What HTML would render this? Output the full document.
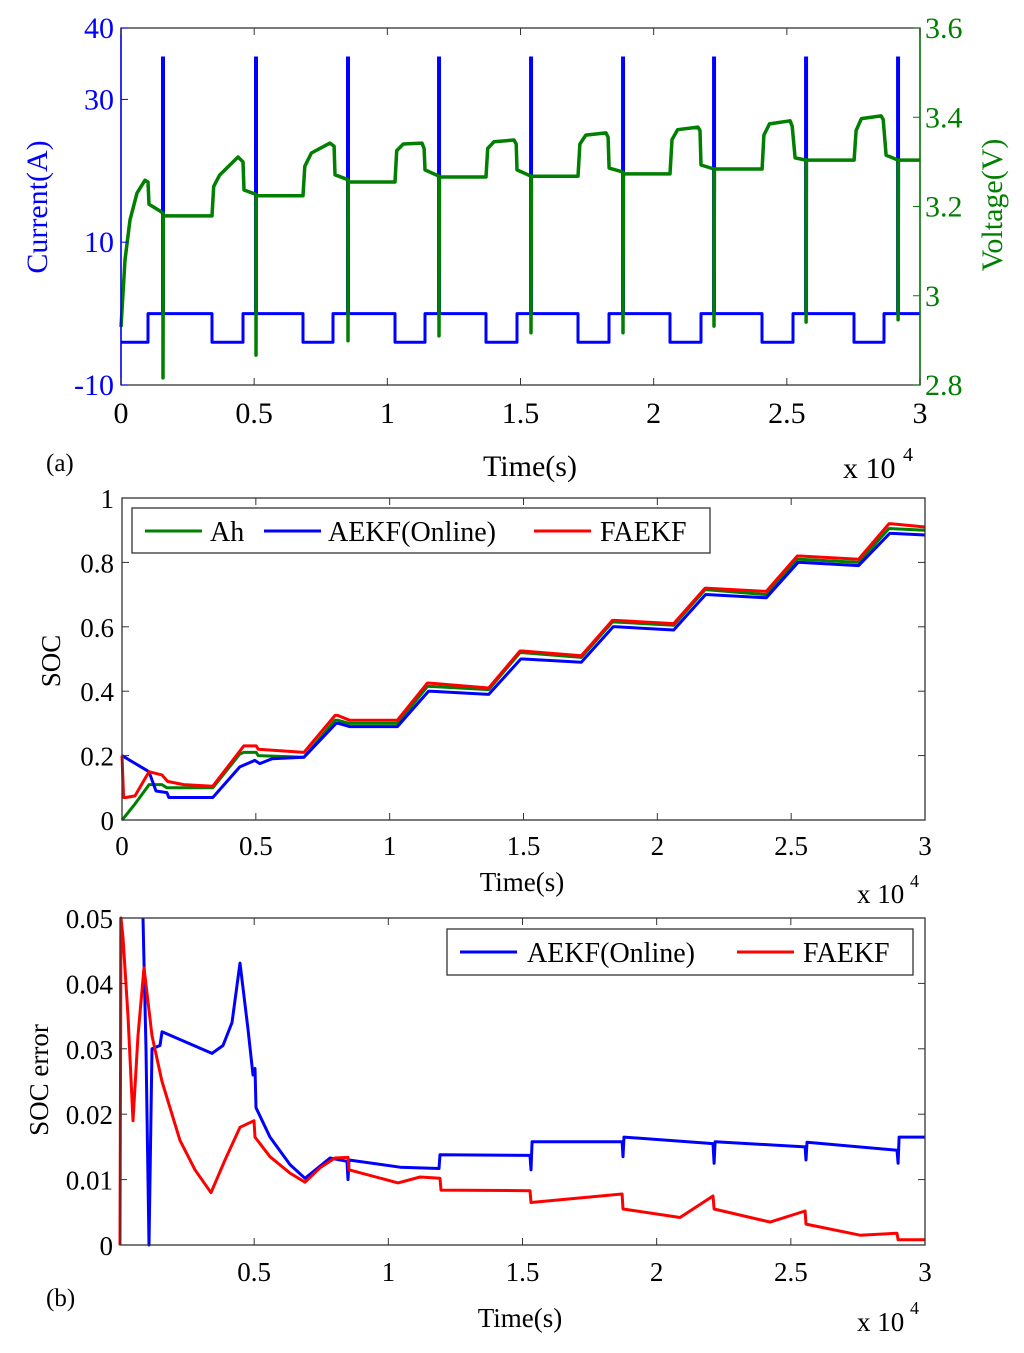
<!DOCTYPE html>
<html><head><meta charset="utf-8"><style>
body{margin:0;background:#fff;width:1024px;height:1348px;overflow:hidden;font-family:"Liberation Serif","DejaVu Serif",serif}
svg text{font-family:"Liberation Serif","DejaVu Serif",serif}
</style></head><body>
<svg id="c" width="1024" height="1348" xmlns="http://www.w3.org/2000/svg"></svg>
<script>
// ---- Panel (a) data ----
const curT=[0,1014,1014,3417,3417,4581,4581,6834,6834,7960,7960,10288,10288,11414,11414,13705,13705,14869,14869,17159,17159,18323,18323,20614,20614,21777,21777,24068,24068,25232,25232,27522,27522,28649,28649,30000];
const curI=[-4,-4,0,0,-4,-4,0,0,-4,-4,0,0,-4,-4,0,0,-4,-4,0,0,-4,-4,0,0,-4,-4,0,0,-4,-4,0,0,-4,-4,0,0];
const spikeT=[1577,5069,8523,11941,15396,18850,22267,25722,29176];
const spikeI=[36,36,36,36,36,36,36,36,36];
const voltT=[0,150,338,600,901,1014,1050,1464,1577,1577,1590,3417,3480,3700,4393,4581,4620,5032,5069,5069,5080,6834,6900,7150,7848,8000,8036,8523,8523,8535,10289,10350,10600,11303,11380,11415,11941,11941,11955,13706,13770,14000,14757,14840,14870,15396,15396,15410,17160,17230,17450,18212,18290,18325,18850,18850,18864,20615,20690,20900,21666,21740,21779,22267,22267,22280,24070,24140,24350,25121,25200,25309,25722,25722,25735,27524,27600,27800,28538,28620,28726,29176,29176,29190,30000];
const voltV=[2.93,3.08,3.17,3.23,3.259,3.255,3.205,3.19,3.185,2.816,3.179,3.179,3.245,3.27,3.311,3.30,3.237,3.228,3.226,2.867,3.224,3.224,3.29,3.32,3.342,3.335,3.271,3.26,2.899,3.255,3.255,3.325,3.34,3.342,3.33,3.282,3.268,2.910,3.266,3.266,3.33,3.345,3.349,3.34,3.282,3.268,2.917,3.268,3.268,3.34,3.36,3.365,3.355,3.286,3.277,2.917,3.273,3.273,3.35,3.372,3.378,3.37,3.293,3.284,2.932,3.284,3.284,3.36,3.385,3.392,3.38,3.309,3.304,2.941,3.304,3.304,3.37,3.397,3.403,3.395,3.315,3.304,2.946,3.304,3.304];
// ---- Panel (b) SOC data ----
const socT=[0,100,485,970,1010,1492,1679,2500,3393,4400,4550,5015,5090,6800,7960,8050,8500,10290,11410,11500,13700,14870,14960,17160,18320,18410,20610,21780,21870,24070,25230,25320,27520,28650,28740,30000];
const ahSOC=[0,0.01,0.05,0.105,0.11,0.11,0.10,0.10,0.10,0.205,0.21,0.21,0.20,0.195,0.31,0.31,0.30,0.30,0.415,0.415,0.405,0.52,0.52,0.505,0.615,0.615,0.605,0.715,0.715,0.70,0.81,0.81,0.80,0.905,0.905,0.90];
const redT=[0,60,150,485,800,1010,1492,1700,2300,3393,4550,5015,5090,6800,7960,8050,8500,10290,11410,11500,13700,14870,14960,17160,18320,18410,20610,21780,21870,24070,25230,25320,27520,28650,28740,30000];
const redSOC=[0.2,0.07,0.07,0.075,0.12,0.15,0.14,0.12,0.11,0.105,0.23,0.23,0.22,0.21,0.325,0.325,0.31,0.31,0.425,0.425,0.41,0.525,0.525,0.51,0.62,0.62,0.61,0.72,0.72,0.71,0.82,0.82,0.81,0.92,0.92,0.91];
const blueT=[0,1010,1270,1679,1750,3393,4400,4960,5150,5600,6800,8000,8100,8500,10290,11450,11550,13700,14900,15000,17160,18350,18450,20610,21800,21900,24070,25260,25350,27520,28680,28770,30000];
const blueSOC=[0.2,0.15,0.09,0.085,0.07,0.07,0.165,0.185,0.175,0.19,0.195,0.30,0.30,0.29,0.29,0.40,0.40,0.39,0.50,0.50,0.49,0.60,0.60,0.59,0.70,0.70,0.69,0.80,0.80,0.79,0.89,0.89,0.885];
// ---- Panel (b) error data ----
const errBT=[857,969,1081,1193,1491,1565,3429,3839,4174,4472,4770,4957,5031,5069,5590,6336,6895,7380,7827,8460,8498,8536,10436,11889,11926,15281,15318,15356,18710,18747,18784,22101,22139,22176,25530,25567,25604,28958,28996,29033,30000];
const errB=[0.05,0.03,0.0,0.030,0.0305,0.0326,0.0293,0.0305,0.034,0.0431,0.033,0.026,0.027,0.021,0.0165,0.0123,0.0102,0.0118,0.0133,0.0128,0.0100,0.0130,0.0119,0.0117,0.0138,0.0137,0.0115,0.0158,0.0158,0.0135,0.0165,0.0155,0.0125,0.0158,0.0150,0.0130,0.0157,0.0145,0.0125,0.0165,0.0165];
const errRT=[0,37,112,298,485,671,894,1193,1565,2236,2795,3392,3914,4472,4994,5031,5590,6336,6895,7454,8013,8498,8536,10362,11182,11926,11964,15281,15318,18710,18747,20871,22101,22139,24226,25530,25567,27580,28958,28996,30000];
const errR=[0,0.050,0.047,0.035,0.019,0.032,0.0424,0.032,0.025,0.016,0.0115,0.008,0.013,0.018,0.019,0.0165,0.0135,0.011,0.0096,0.0118,0.0133,0.0134,0.0115,0.0095,0.0104,0.0102,0.0084,0.0083,0.0065,0.0078,0.0055,0.0042,0.0075,0.0055,0.0035,0.0052,0.0032,0.0015,0.0018,0.0008,0.0008];
const xTicks=[0,0.5,1,1.5,2,2.5,3];
const xTicks2=[0.5,1,1.5,2,2.5,3];
const curTicks=[-10,10,30,40];
const voltTicks=[2.8,3,3.2,3.4,3.6];
const socTicks=[0,0.2,0.4,0.6,0.8,1];
const errTicks=[0,0.01,0.02,0.03,0.04,0.05];

const S=document.getElementById('c');
const NS='http://www.w3.org/2000/svg';
const FONT='"Liberation Serif","DejaVu Serif",serif';
function mk(tag,at,txt){const e=document.createElementNS(NS,tag);for(const k in at)e.setAttribute(k,at[k]);if(txt!==undefined)e.textContent=txt;S.appendChild(e);return e;}
function fmt(v){return (Math.round(v*1000)/1000).toString();}
function lin(d0,d1,r0,r1){return v=>r0+(v-d0)/(d1-d0)*(r1-r0);}
function path(T,V,sx,sy,color,name,w){let d='';for(let i=0;i<T.length;i++)d+=(i?'L':'M')+sx(T[i]).toFixed(1)+' '+sy(V[i]).toFixed(1);const p=mk('path',{d:d,fill:'none',stroke:color,'stroke-width':w||3,'stroke-linejoin':'round'});

return p;}
function txt(x,y,s,opts,name){const t=mk('text',Object.assign({x:x,y:y,'font-size':30,'font-family':FONT},opts),s);

return t;}

// ===== Panel a =====
(function(){
const L=121,R=920,T=28,B=385;
const sx=lin(0,30000,L,R), sy=lin(-10,40,B,T), sv=lin(2.8,3.6,B,T);
path(curT,curI,sx,sy,'#0000ff','current-line',3);
for(let i=0;i<spikeT.length;i++){const l=mk('line',{x1:sx(spikeT[i]),x2:sx(spikeT[i]),y1:sy(0),y2:sy(spikeI[i]),stroke:'#0000ff','stroke-width':4});

}
path(voltT,voltV,sx,sv,'#007f00','voltage-line',3.5);
const f=mk('rect',{x:L,y:T,width:R-L,height:B-T,fill:'none',stroke:'#333','stroke-width':1.3});


mk('line',{x1:L,y1:T,x2:L,y2:B,stroke:'#0000ff','stroke-width':1.5});
mk('line',{x1:R,y1:T,x2:R,y2:B,stroke:'#007f00','stroke-width':1.5});
xTicks.forEach(v=>{const x=sx(v*1e4);mk('line',{x1:x,x2:x,y1:B,y2:B-7,stroke:'#333'});mk('line',{x1:x,x2:x,y1:T,y2:T+7,stroke:'#333'});
txt(x,423,fmt(v),{'text-anchor':'middle'},'x-tick-label');});
curTicks.forEach(v=>{const y=sy(v);mk('line',{x1:L,x2:L+7,y1:y,y2:y,stroke:'#0000ff'});txt(114,y+10,String(v),{'text-anchor':'end',fill:'#0000ff'},'current-tick-label');});
voltTicks.forEach(v=>{const y=sv(v);mk('line',{x1:R,x2:R-7,y1:y,y2:y,stroke:'#007f00'});txt(925,y+10,fmt(v),{fill:'#007f00'},'voltage-tick-label');});
txt(0,0,'Current(A)',{'text-anchor':'middle',fill:'#0000ff',transform:'translate(47,207) rotate(-90)'},'current-axis-title');
txt(0,0,'Voltage(V)',{'text-anchor':'middle',fill:'#007f00',transform:'translate(1002,205) rotate(-90)'},'voltage-axis-title');
txt(530,476,'Time(s)',{'text-anchor':'middle'},'x-axis-title-a');
txt(843,478,'x 10',{},'x-scale-a');txt(903,461,'4',{'font-size':20},'x-scale-exp-a');
txt(46,471,'(a)',{'font-size':25},'panel-label-a');
})();

// ===== Panel b SOC =====
(function(){
const L=122,R=925,T=498,B=820;
const sx=lin(0,30000,L,R), sy=lin(0,1,B,T);
path(socT,ahSOC,sx,sy,'#007f00','ah-soc-line',3);
path(blueT,blueSOC,sx,sy,'#0000ff','aekf-soc-line',3);
path(redT,redSOC,sx,sy,'#ff0000','faekf-soc-line',3);
const f=mk('rect',{x:L,y:T,width:R-L,height:B-T,fill:'none',stroke:'#333','stroke-width':1.3});


xTicks.forEach(v=>{const x=sx(v*1e4);mk('line',{x1:x,x2:x,y1:B,y2:B-7,stroke:'#333'});mk('line',{x1:x,x2:x,y1:T,y2:T+7,stroke:'#333'});
txt(x,855,fmt(v),{'text-anchor':'middle','font-size':27},'x-tick-label');});
socTicks.forEach(v=>{const y=sy(v);mk('line',{x1:L,x2:L+7,y1:y,y2:y,stroke:'#333'});mk('line',{x1:R,x2:R-7,y1:y,y2:y,stroke:'#333'});
txt(114,y+10,fmt(v),{'text-anchor':'end','font-size':27},'soc-tick-label');});
txt(0,0,'SOC',{'text-anchor':'middle','font-size':27,transform:'translate(60,661) rotate(-90)'},'soc-axis-title');
txt(522,891,'Time(s)',{'text-anchor':'middle','font-size':27},'x-axis-title-soc');
txt(857,903,'x 10',{'font-size':27},'x-scale-soc');txt(910,887,'4',{'font-size':18},'x-scale-exp-soc');
const lg=mk('rect',{x:132,y:508,width:578,height:45,fill:'#fff',stroke:'#333','stroke-width':1.3});


[['#007f00','Ah',145,210],['#0000ff','AEKF(Online)',264,328],['#ff0000','FAEKF',534,600]].forEach(e=>{mk('line',{x1:e[2],x2:e[2]+57,y1:531,y2:531,stroke:e[0],'stroke-width':3});txt(e[3],541,e[1],{'font-size':28},'legend-entry');});
})();

// ===== Panel b error =====
(function(){
const L=120,R=925,T=918,B=1245;
const sx=lin(0,30000,L,R), sy=lin(0,0.05,B,T);
path(errBT,errB,sx,sy,'#0000ff','aekf-error-line',3);
path(errRT,errR,sx,sy,'#ff0000','faekf-error-line',3);
const f=mk('rect',{x:L,y:T,width:R-L,height:B-T,fill:'none',stroke:'#333','stroke-width':1.3});


xTicks2.forEach(v=>{const x=sx(v*1e4);mk('line',{x1:x,x2:x,y1:B,y2:B-7,stroke:'#333'});mk('line',{x1:x,x2:x,y1:T,y2:T+7,stroke:'#333'});
txt(x,1281,fmt(v),{'text-anchor':'middle','font-size':27},'x-tick-label');});
errTicks.forEach(v=>{const y=sy(v);mk('line',{x1:L,x2:L+7,y1:y,y2:y,stroke:'#333'});mk('line',{x1:R,x2:R-7,y1:y,y2:y,stroke:'#333'});
txt(113,y+10,fmt(v),{'text-anchor':'end','font-size':27},'error-tick-label');});
txt(0,0,'SOC error',{'text-anchor':'middle','font-size':27,transform:'translate(48,1080) rotate(-90)'},'error-axis-title');
txt(520,1327,'Time(s)',{'text-anchor':'middle','font-size':27},'x-axis-title-error');
txt(857,1331,'x 10',{'font-size':27},'x-scale-error');txt(910,1314,'4',{'font-size':18},'x-scale-exp-error');
txt(46,1306,'(b)',{'font-size':25},'panel-label-b');
const lg=mk('rect',{x:447,y:929,width:466,height:46,fill:'#fff',stroke:'#333','stroke-width':1.3});


[['#0000ff','AEKF(Online)',460,527],['#ff0000','FAEKF',737,803]].forEach(e=>{mk('line',{x1:e[2],x2:e[2]+57,y1:952,y2:952,stroke:e[0],'stroke-width':3});txt(e[3],962,e[1],{'font-size':28},'legend-entry');});
})();
</script>
</body></html>
